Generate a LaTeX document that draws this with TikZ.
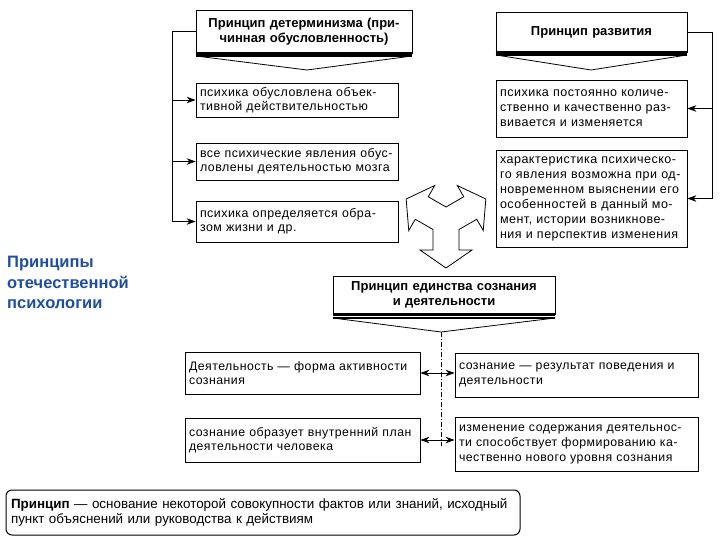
\documentclass[tikz,border=0pt]{standalone}
\usepackage{fontspec}
\setmainfont{Liberation Sans}
\newfontfamily\boxfam[LetterSpace=4]{Liberation Sans}
\usetikzlibrary{arrows.meta,calc}
\definecolor{titleblue}{RGB}{31,78,160}
\tikzset{
  txtbox/.style={draw, line width=0.8pt, align=left, inner xsep=4pt, inner ysep=2pt,
    font=\boxfam\fontsize{12.4}{14.3}\selectfont},
  rbox/.style={txtbox, font=\boxfam\fontsize{12.5}{15}\selectfont},
  lbox/.style={txtbox, font=\boxfam\fontsize{12.3}{14.5}\selectfont},
  headbox/.style={draw, line width=0.9pt, align=center, inner xsep=4pt, inner ysep=2pt,
    font=\bfseries\fontsize{13}{15.5}\selectfont},
  shadowline/.style={line width=2.4pt},
  chev/.style={draw, line width=0.8pt, fill=white},
  arr/.style={line width=0.8pt, -{Stealth[length=9pt,width=6.5pt]}},
  dblarr/.style={line width=0.8pt, {Stealth[length=9pt,width=6.5pt]}-{Stealth[length=9pt,width=6.5pt]}},
  conn/.style={line width=0.8pt},
  vdash/.style={line width=0.6pt, dash pattern=on 5pt off 2pt on 1pt off 2pt},
}
\begin{document}
\begin{tikzpicture}[x=1pt,y=-1pt]
\useasboundingbox (0,0) rectangle (720,540);

% ---- headers
\node[headbox, minimum width=216pt, minimum height=43pt, text width=208pt] (det) at (304,31.5)
  {Принцип детерминизма (при-\\чинная обусловленность)};
\draw[shadowline] (det.south west) -- (det.south east);
\draw[line width=1.6pt] (det.north east) -- (det.south east);
\draw[chev] (196,56) -- (412,56) -- (307,70) -- cycle;
\draw[line width=1.6pt] (196,56) -- (412,56);

\node[headbox, minimum width=191pt, minimum height=40pt, text width=183pt] (dev) at (591.5,32)
  {Принцип развития};
\draw[shadowline] (dev.south west) -- (dev.south east);
\draw[line width=1.6pt] (dev.north east) -- (dev.south east);
\draw[chev] (496,55) -- (687,55) -- (591,70) -- cycle;
\draw[line width=1.6pt] (496,55) -- (687,55);

\node[headbox, minimum width=222pt, minimum height=38pt, text width=214pt] (uni) at (444,295)
  {Принцип единства сознания\\и деятельности};
\draw[shadowline] (uni.south west) -- (uni.south east);
\draw[line width=1.6pt] (uni.north east) -- (uni.south east);
\draw[chev] (333,318) -- (555,318) -- (441,332) -- cycle;
\draw[line width=1.6pt] (333,318) -- (555,318);

% ---- determinism boxes
\node[txtbox, minimum width=202pt, minimum height=34pt, text width=194pt] (b1) at (297,100)
  {психика обусловлена объек-\\тивной действительностью};
\node[txtbox, minimum width=202pt, minimum height=37pt, text width=194pt] (b2) at (297,161.5)
  {все психические явления обус-\\ловлены деятельностью мозга};
\node[txtbox, minimum width=202pt, minimum height=41pt, text width=194pt] (b3) at (297,221.5)
  {психика определяется обра-\\зом жизни и др.};

\coordinate (ltop) at (172,31.5);
\draw[conn] (det.west) -- (ltop);
\draw[arr] (ltop) |- (b1.west);
\draw[arr] (ltop) |- (b2.west);
\draw[arr] (ltop) |- (b3.west);

% ---- development boxes
\node[rbox, minimum width=191pt, minimum height=57pt, text width=183pt] (r1) at (591.5,108.5)
  {психика постоянно количе-\\ственно и качественно раз-\\вивается и изменяется};
\node[rbox, minimum width=191pt, minimum height=97pt, text width=183pt] (r2) at (591.5,198.5)
  {характеристика психическо-\\го явления возможна при од-\\новременном выяснении его\\особенностей в данный мо-\\мент, истории возникнове-\\ния и перспектив изменения};

\coordinate (rtop) at (712,32);
\draw[conn] (dev.east) -- (rtop);
\draw[arr] (rtop) |- (r1.east);
\draw[arr] (rtop) |- (r2.east);

% ---- triple arrow
\coordinate (tc) at (446,222);
\draw[line width=0.8pt, fill=white]
  ($(tc)+(-150:15pt)$)
  -- ($(tc)+(-90:28pt)+(-180:13pt)$) -- ($(tc)+(-90:28pt)+(-180:26pt)$)
  -- ($(tc)+(-90:46pt)$)
  -- ($(tc)+(-90:28pt)+(0:26pt)$) -- ($(tc)+(-90:28pt)+(0:13pt)$)
  -- ($(tc)+(-30:15pt)$)
  -- ($(tc)+(30:28pt)+(-60:13pt)$) -- ($(tc)+(30:28pt)+(-60:26pt)$)
  -- ($(tc)+(30:46pt)$)
  -- ($(tc)+(30:28pt)+(120:26pt)$) -- ($(tc)+(30:28pt)+(120:13pt)$)
  -- ($(tc)+(90:15pt)$)
  -- ($(tc)+(150:28pt)+(60:13pt)$) -- ($(tc)+(150:28pt)+(60:26pt)$)
  -- ($(tc)+(150:46pt)$)
  -- ($(tc)+(150:28pt)+(240:26pt)$) -- ($(tc)+(150:28pt)+(240:13pt)$)
  -- cycle;

% ---- unity boxes
\node[lbox, minimum width=235pt, minimum height=42pt, text width=227pt] (l1) at (302.5,373)
  {Деятельность — форма активности\\сознания};
\node[lbox, minimum width=235pt, minimum height=44pt, text width=227pt] (l2) at (302.5,440)
  {сознание образует внутренний план\\деятельности человека};
\node[lbox, minimum width=243pt, minimum height=44pt, text width=235pt] (u1) at (576.5,375)
  {сознание — результат поведения и\\деятельности};
\node[lbox, minimum width=243pt, minimum height=54pt, text width=235pt, font=\boxfam\fontsize{12.3}{15}\selectfont] (u2) at (576.5,444)
  {изменение содержания деятельнос-\\ти способствует формированию ка-\\чественно нового уровня сознания};

\coordinate (uapex) at (441,332);
\coordinate (ubot) at (441,446);
\draw[vdash] (uapex) -- (ubot);
\draw[dblarr] (l1.east) -- (l1.east -| u1.west);
\draw[dblarr] (l2.east) -- (l2.east -| u2.west);

% ---- title
\node[anchor=north west, inner sep=0pt, align=left, text=titleblue,
  font=\bfseries\fontsize{16.5}{20.5}\selectfont] (title) at (7,256)
  {Принципы\\отечественной\\психологии};

% ---- definition
\node[draw, line width=1pt, rounded corners=6pt, minimum width=514pt, minimum height=45pt,
  text width=504pt, align=left, inner xsep=5pt, font=\fontsize{13.4}{14.3}\selectfont] (def) at (263,512.5)
  {\textbf{Принцип} — основание некоторой совокупности фактов или знаний, исходный\\пункт объяснений или руководства к действиям};
\end{tikzpicture}
\end{document}
